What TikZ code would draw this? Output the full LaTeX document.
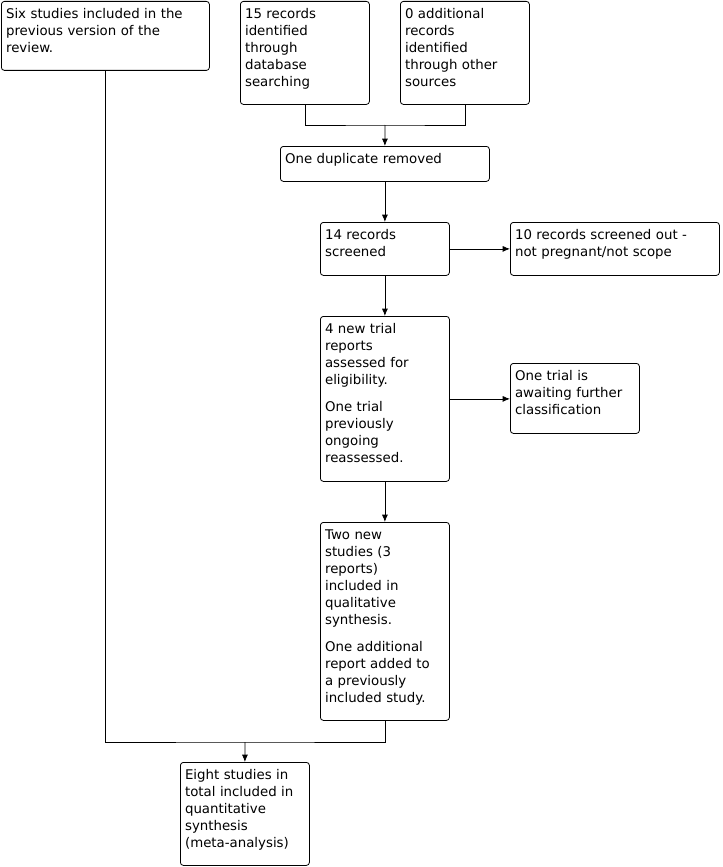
\documentclass[tikz,border=0pt]{standalone}
\usepackage{fontspec}
\setmainfont{DejaVu Sans}
\usetikzlibrary{arrows.meta}

\begin{document}
\begin{tikzpicture}[
        x=0.75pt, y=-0.75pt,
        line width=0.6pt,
        box/.style 2 args={
            draw=black,
            rounded corners=2.25pt,
            anchor=north west,
            align=left,
            inner xsep=3.5pt,
            inner ysep=0pt,
            text width=#1,
            text height=12.75pt,
            text depth=#2,
            font=\fontsize{10}{12.75}\selectfont
        },
        arr/.style={-{Latex[length=5.5pt,width=4.5pt]}}
    ]
    \useasboundingbox (0,0) rectangle (722,867);

    % Cajas
    \node[box={149pt}{39pt}]        (prev)  at (1,1)     {Six studies included in the\\previous version of the\\review.};
    \node[box={89.75pt}{64.5pt}]    (db)    at (240,1)   {15 records\\identified\\through\\database\\searching};
    \node[box={89.75pt}{64.5pt}]    (other) at (400,1)   {0 additional\\records\\identified\\through other\\sources};
    \node[box={149.75pt}{13.5pt}]   (dup)   at (280,146) {One duplicate removed};
    \node[box={89.75pt}{27pt}]      (scr)   at (320,222) {14 records\\screened};
    \node[box={149.75pt}{27pt}]     (out)   at (510,222) {10 records screened out -\\not pregnant/not scope};
    \node[box={89.75pt}{111pt}]     (elig)  at (320,316) {4 new trial\\reports\\assessed for\\eligibility.\\[7.5pt]One trial\\previously\\ongoing\\reassessed.};
    \node[box={89.75pt}{39.75pt}]   (wait)  at (510,363) {One trial is\\awaiting further\\classification};
    \node[box={89.75pt}{135.75pt}]  (qual)  at (320,522) {Two new\\studies (3\\reports)\\included in\\qualitative\\synthesis.\\[7.5pt]One additional\\report added to\\a previously\\included study.};
    \node[box={89.75pt}{64.5pt}]    (meta)  at (180,762) {Eight studies in\\total included in\\quantitative\\synthesis\\(meta-analysis)};

    % Uniones
    \coordinate (j1) at (385,125);
    \coordinate (j2) at (245,742);
    \draw (db.south) |- (j1) -| (other.south);
    \draw[arr] (j1) -- (dup.north);
    \draw[arr] (dup.south) -- (scr.north);
    \draw[arr] (scr.east) -- (out.west);
    \draw[arr] (scr.south) -- (elig.north);
    \draw[arr] (elig.east) -- (elig.east -| wait.west);
    \draw[arr] (elig.south) -- (qual.north);
    \draw (prev.south) |- (j2) -| (qual.south);
    \draw[arr] (j2) -- (meta.north);

\end{tikzpicture}
\end{document}
